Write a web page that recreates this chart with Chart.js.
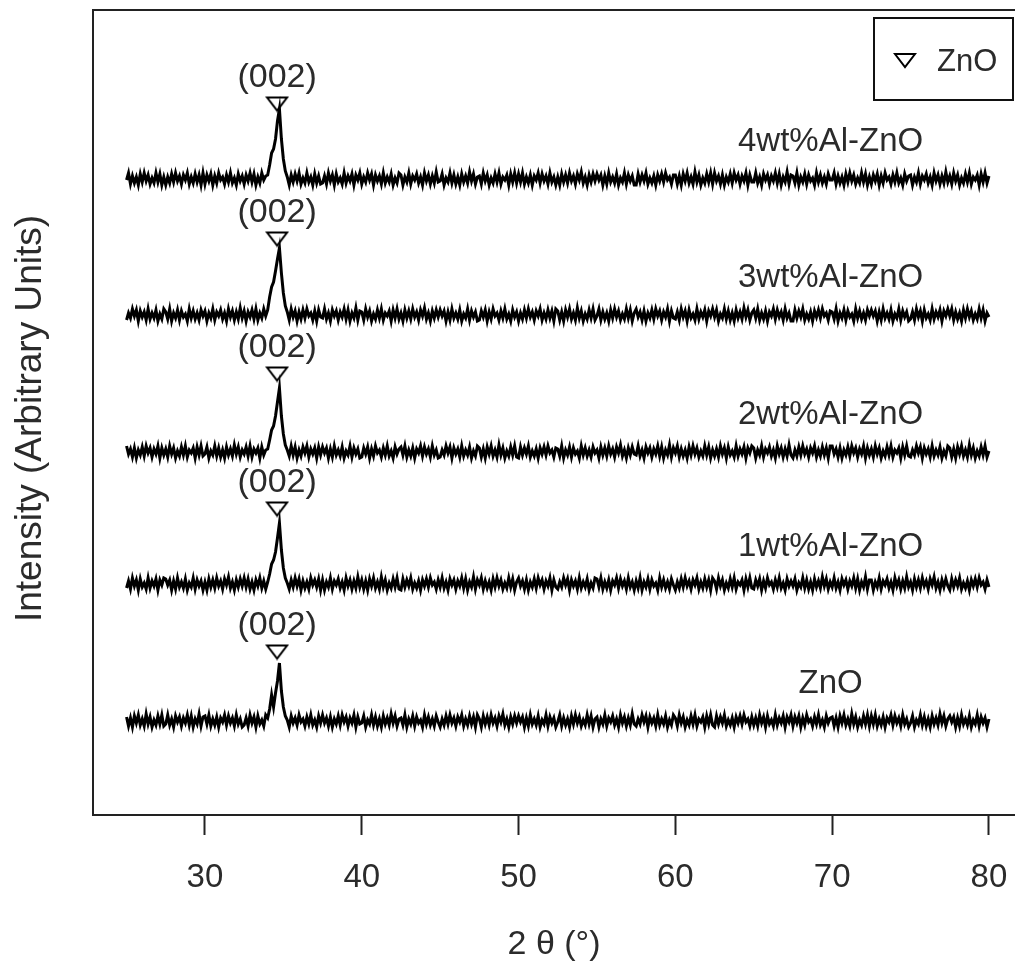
<!DOCTYPE html>
<html>
<head>
<meta charset="utf-8">
<title>XRD Al-ZnO</title>
<script src="https://cdn.jsdelivr.net/npm/chart.js"></script>
<style>
  html, body { margin: 0; padding: 0; background: #fff; }
  #wrap { width: 1015px; height: 972px; }
</style>
</head>
<body>
<div id="wrap"><canvas id="xrd"></canvas></div>
<script>
// --- datos ---
const xTicks = [30, 40, 50, 60, 70, 80];
// barrido 25..80 en pasos de 0.125
const twoTheta = Array.from({ length: 441 }, (_, i) => 25 + i * 0.125);

const sampleNames = ['ZnO', '1wt%Al-ZnO', '2wt%Al-ZnO', '3wt%Al-ZnO', '4wt%Al-ZnO'];
// desplazamiento vertical de cada patrón (unidades arbitrarias)
const offsets = [94, 231, 363, 500, 636];
// marcador (002) de ZnO: posición y altura para cada patrón
const peakMarkX = 34.6;
const peakMarkY = [163, 306, 441, 576, 711];

const intZnO = [
  4,-5,3,-6,5,-2,6,-4,2,-5,7,-3,4,-6,1,-4,5,-3,6,-5,
  -3,6,-4,2,-6,5,-1,4,-5,3,-2,6,-4,5,-6,2,-3,7,-5,4,
  5,-3,6,-5,2,-4,4,-6,3,-1,6,-4,5,-2,3,-5,6,-3,2,-6,
  -4,3,-5,6,-2,4,-6,5,-3,1,-5,6,3,12,26,14,28,40,58,30,
  14,5,1,-6,5,-2,3,-4,6,-1,2,-5,4,-3,6,-4,1,-6,5,-2,
  6,-2,3,-5,4,-6,2,-3,5,-4,6,-1,4,-5,3,-2,6,-6,4,-3,
  -2,5,-6,1,-3,6,-4,4,-5,2,-6,5,-3,3,-4,7,-2,5,-5,2,
  3,-4,6,-6,2,-3,5,-5,4,-2,1,-6,6,-3,4,-4,2,-5,5,-1,
  -6,2,-4,5,-3,6,-2,3,-5,4,-1,6,-5,2,-4,5,-3,4,-6,6,
  2,-6,5,-3,4,-4,6,-2,3,-5,5,-1,7,-4,2,-6,4,-3,5,-2,
  5,-1,4,-6,3,-5,6,-3,2,-4,5,-6,1,-3,6,-5,4,-2,3,-6,
  -1,6,-5,3,-4,2,-6,5,-3,6,-2,4,-5,1,-4,6,-3,5,-6,2,
  4,-6,2,-3,6,-5,3,-1,5,-4,2,-6,6,-2,4,-5,3,-4,7,-3,
  -5,2,-3,6,-1,5,-6,4,-2,3,-5,6,-4,2,-3,5,-6,1,-4,6,
  3,-5,6,-2,4,-6,1,-4,5,-3,6,-5,2,-1,4,-6,5,-3,6,-4,
  -6,5,-3,4,-2,6,-5,1,-4,3,-6,4,-2,5,-3,6,-1,2,-5,4,
  -4,3,-5,6,-2,4,-6,5,-3,1,-5,6,-4,3,-2,5,-6,4,-1,6,
  -5,4,-2,5,-6,3,-4,6,-1,2,-5,4,-3,6,-4,1,-6,5,-2,3,
  4,-5,3,-6,5,-2,6,-4,2,-5,7,-3,4,-6,1,-4,5,-3,6,-5,
  5,-3,6,-5,2,-4,4,-6,3,-1,6,-4,5,-2,3,-5,6,-3,2,-6,
  -2,5,-6,1,-3,6,-4,4,-5,2,-6,5,-3,3,-4,7,-2,5,-5,2,
  5,-1,4,-6,3,-5,6,-3,2,-4,5,-6,1,-3,6,-5,4,-2,3,-6,
  2
];
const int1wt = [
  -4,3,-5,6,-2,4,-6,5,-3,1,-5,6,-4,3,-2,5,-6,4,-1,6,
  5,-1,4,-6,3,-5,6,-3,2,-4,5,-6,1,-3,6,-5,4,-2,3,-6,
  2,-6,5,-3,4,-4,6,-2,3,-5,5,-1,7,-4,2,-6,4,-3,5,-2,
  6,-3,5,-5,2,-6,4,-2,6,-4,3,-5,2,10,20,24,32,46,61,34,
  16,6,1,-5,4,-3,6,-2,5,-6,3,-4,2,-5,6,-1,4,-3,5,-6,
  4,-6,2,-3,6,-5,3,-1,5,-4,2,-6,6,-2,4,-5,3,-4,7,-3,
  4,-5,3,-6,5,-2,6,-4,2,-5,7,-3,4,-6,1,-4,5,-3,6,-5,
  -6,5,-3,4,-2,6,-5,1,-4,3,-6,4,-2,5,-3,6,-1,2,-5,4,
  -3,6,-4,2,-6,5,-1,4,-5,3,-2,6,-4,5,-6,2,-3,7,-5,4,
  -1,6,-5,3,-4,2,-6,5,-3,6,-2,4,-5,1,-4,6,-3,5,-6,2,
  6,-2,3,-5,4,-6,2,-3,5,-4,6,-1,4,-5,3,-2,6,-6,4,-3,
  -5,2,-3,6,-1,5,-6,4,-2,3,-5,6,-4,2,-3,5,-6,1,-4,6,
  5,-3,6,-5,2,-4,4,-6,3,-1,6,-4,5,-2,3,-5,6,-3,2,-6,
  3,-4,6,-6,2,-3,5,-5,4,-2,1,-6,6,-3,4,-4,2,-5,5,-1,
  -6,2,-4,5,-3,6,-2,3,-5,4,-1,6,-5,2,-4,5,-3,4,-6,6,
  3,-5,6,-2,4,-6,1,-4,5,-3,6,-5,2,-1,4,-6,5,-3,6,-4,
  -5,4,-2,5,-6,3,-4,6,-1,2,-5,4,-3,6,-4,1,-6,5,-2,3,
  -2,5,-6,1,-3,6,-4,4,-5,2,-6,5,-3,3,-4,7,-2,5,-5,2,
  -3,6,-4,2,-6,5,-1,4,-5,3,-2,6,-4,5,-6,2,-3,7,-5,4,
  4,-6,2,-3,6,-5,3,-1,5,-4,2,-6,6,-2,4,-5,3,-4,7,-3,
  2,-6,5,-3,4,-4,6,-2,3,-5,5,-1,7,-4,2,-6,4,-3,5,-2,
  -6,5,-3,4,-2,6,-5,1,-4,3,-6,4,-2,5,-3,6,-1,2,-5,4,
  -3
];
const int2wt = [
  6,-2,3,-5,4,-6,2,-3,5,-4,6,-1,4,-5,3,-2,6,-6,4,-3,
  3,-5,6,-2,4,-6,1,-4,5,-3,6,-5,2,-1,4,-6,5,-3,6,-4,
  -2,5,-6,1,-3,6,-4,4,-5,2,-6,5,-3,3,-4,7,-2,5,-5,2,
  -2,5,-4,6,-5,3,-1,4,-6,5,-3,2,3,12,22,26,36,50,64,36,
  18,7,2,-4,6,-3,5,-6,2,-4,5,-1,6,-5,3,-2,4,-6,5,-3,
  5,-1,4,-6,3,-5,6,-3,2,-4,5,-6,1,-3,6,-5,4,-2,3,-6,
  -5,4,-2,5,-6,3,-4,6,-1,2,-5,4,-3,6,-4,1,-6,5,-2,3,
  5,-3,6,-5,2,-4,4,-6,3,-1,6,-4,5,-2,3,-5,6,-3,2,-6,
  -5,2,-3,6,-1,5,-6,4,-2,3,-5,6,-4,2,-3,5,-6,1,-4,6,
  4,-5,3,-6,5,-2,6,-4,2,-5,7,-3,4,-6,1,-4,5,-3,6,-5,
  -6,5,-3,4,-2,6,-5,1,-4,3,-6,4,-2,5,-3,6,-1,2,-5,4,
  3,-4,6,-6,2,-3,5,-5,4,-2,1,-6,6,-3,4,-4,2,-5,5,-1,
  2,-6,5,-3,4,-4,6,-2,3,-5,5,-1,7,-4,2,-6,4,-3,5,-2,
  -3,6,-4,2,-6,5,-1,4,-5,3,-2,6,-4,5,-6,2,-3,7,-5,4,
  -1,6,-5,3,-4,2,-6,5,-3,6,-2,4,-5,1,-4,6,-3,5,-6,2,
  -4,3,-5,6,-2,4,-6,5,-3,1,-5,6,-4,3,-2,5,-6,4,-1,6,
  4,-6,2,-3,6,-5,3,-1,5,-4,2,-6,6,-2,4,-5,3,-4,7,-3,
  -6,2,-4,5,-3,6,-2,3,-5,4,-1,6,-5,2,-4,5,-3,4,-6,6,
  6,-2,3,-5,4,-6,2,-3,5,-4,6,-1,4,-5,3,-2,6,-6,4,-3,
  3,-5,6,-2,4,-6,1,-4,5,-3,6,-5,2,-1,4,-6,5,-3,6,-4,
  -5,2,-3,6,-1,5,-6,4,-2,3,-5,6,-4,2,-3,5,-6,1,-4,6,
  4,-5,3,-6,5,-2,6,-4,2,-5,7,-3,4,-6,1,-4,5,-3,6,-5,
  1
];
const int3wt = [
  -5,2,-3,6,-1,5,-6,4,-2,3,-5,6,-4,2,-3,5,-6,1,-4,6,
  3,-4,6,-6,2,-3,5,-5,4,-2,1,-6,6,-3,4,-4,2,-5,5,-1,
  4,-6,2,-3,6,-5,3,-1,5,-4,2,-6,6,-2,4,-5,3,-4,7,-3,
  4,-6,3,-2,5,-4,6,-5,2,-3,6,-1,5,18,28,33,44,56,67,42,
  22,9,3,-5,6,-2,4,-6,3,-4,5,-3,6,-1,2,-5,4,-6,5,-2,
  -3,6,-4,2,-6,5,-1,4,-5,3,-2,6,-4,5,-6,2,-3,7,-5,4,
  3,-5,6,-2,4,-6,1,-4,5,-3,6,-5,2,-1,4,-6,5,-3,6,-4,
  2,-6,5,-3,4,-4,6,-2,3,-5,5,-1,7,-4,2,-6,4,-3,5,-2,
  5,-1,4,-6,3,-5,6,-3,2,-4,5,-6,1,-3,6,-5,4,-2,3,-6,
  -5,4,-2,5,-6,3,-4,6,-1,2,-5,4,-3,6,-4,1,-6,5,-2,3,
  -6,2,-4,5,-3,6,-2,3,-5,4,-1,6,-5,2,-4,5,-3,4,-6,6,
  4,-5,3,-6,5,-2,6,-4,2,-5,7,-3,4,-6,1,-4,5,-3,6,-5,
  -1,6,-5,3,-4,2,-6,5,-3,6,-2,4,-5,1,-4,6,-3,5,-6,2,
  6,-2,3,-5,4,-6,2,-3,5,-4,6,-1,4,-5,3,-2,6,-6,4,-3,
  -4,3,-5,6,-2,4,-6,5,-3,1,-5,6,-4,3,-2,5,-6,4,-1,6,
  -2,5,-6,1,-3,6,-4,4,-5,2,-6,5,-3,3,-4,7,-2,5,-5,2,
  5,-3,6,-5,2,-4,4,-6,3,-1,6,-4,5,-2,3,-5,6,-3,2,-6,
  -6,5,-3,4,-2,6,-5,1,-4,3,-6,4,-2,5,-3,6,-1,2,-5,4,
  3,-4,6,-6,2,-3,5,-5,4,-2,1,-6,6,-3,4,-4,2,-5,5,-1,
  5,-1,4,-6,3,-5,6,-3,2,-4,5,-6,1,-3,6,-5,4,-2,3,-6,
  -4,3,-5,6,-2,4,-6,5,-3,1,-5,6,-4,3,-2,5,-6,4,-1,6,
  -1,6,-5,3,-4,2,-6,5,-3,6,-2,4,-5,1,-4,6,-3,5,-6,2,
  -2
];
const int4wt = [
  -1,6,-5,3,-4,2,-6,5,-3,6,-2,4,-5,1,-4,6,-3,5,-6,2,
  -6,2,-4,5,-3,6,-2,3,-5,4,-1,6,-5,2,-4,5,-3,4,-6,6,
  -5,4,-2,5,-6,3,-4,6,-1,2,-5,4,-3,6,-4,1,-6,5,-2,3,
  -5,4,-2,6,-3,5,-6,2,-4,6,-1,3,4,14,26,30,40,58,70,40,
  20,8,2,-6,4,-3,5,-2,6,-5,1,-4,6,-3,2,-6,5,-4,3,-5,
  -4,3,-5,6,-2,4,-6,5,-3,1,-5,6,-4,3,-2,5,-6,4,-1,6,
  -5,2,-3,6,-1,5,-6,4,-2,3,-5,6,-4,2,-3,5,-6,1,-4,6,
  4,-6,2,-3,6,-5,3,-1,5,-4,2,-6,6,-2,4,-5,3,-4,7,-3,
  -2,5,-6,1,-3,6,-4,4,-5,2,-6,5,-3,3,-4,7,-2,5,-5,2,
  3,-5,6,-2,4,-6,1,-4,5,-3,6,-5,2,-1,4,-6,5,-3,6,-4,
  5,-3,6,-5,2,-4,4,-6,3,-1,6,-4,5,-2,3,-5,6,-3,2,-6,
  2,-6,5,-3,4,-4,6,-2,3,-5,5,-1,7,-4,2,-6,4,-3,5,-2,
  5,-1,4,-6,3,-5,6,-3,2,-4,5,-6,1,-3,6,-5,4,-2,3,-6,
  -6,5,-3,4,-2,6,-5,1,-4,3,-6,4,-2,5,-3,6,-1,2,-5,4,
  4,-5,3,-6,5,-2,6,-4,2,-5,7,-3,4,-6,1,-4,5,-3,6,-5,
  6,-2,3,-5,4,-6,2,-3,5,-4,6,-1,4,-5,3,-2,6,-6,4,-3,
  -3,6,-4,2,-6,5,-1,4,-5,3,-2,6,-4,5,-6,2,-3,7,-5,4,
  3,-4,6,-6,2,-3,5,-5,4,-2,1,-6,6,-3,4,-4,2,-5,5,-1,
  -1,6,-5,3,-4,2,-6,5,-3,6,-2,4,-5,1,-4,6,-3,5,-6,2,
  -5,4,-2,5,-6,3,-4,6,-1,2,-5,4,-3,6,-4,1,-6,5,-2,3,
  4,-6,2,-3,6,-5,3,-1,5,-4,2,-6,6,-2,4,-5,3,-4,7,-3,
  3,-5,6,-2,4,-6,1,-4,5,-3,6,-5,2,-1,4,-6,5,-3,6,-4,
  3
];
const intensities = [intZnO, int1wt, int2wt, int3wt, int4wt];

// --- estilos ---
const FONT = '"Liberation Sans", Arial, sans-serif';
const TXT = '#2b2b2b';
Chart.defaults.font.family = FONT;
Chart.defaults.color = TXT;

// triángulo invertido como imagen de marcador
function triangleIcon(w, h) {
  const c = document.createElement('canvas');
  c.width = w + 4; c.height = h + 4;
  const g = c.getContext('2d');
  g.beginPath();
  g.moveTo(2, 2);
  g.lineTo(w + 2, 2);
  g.lineTo(w / 2 + 2, h + 2);
  g.closePath();
  g.fillStyle = '#fff';
  g.fill();
  g.lineWidth = 2;
  g.strokeStyle = '#000';
  g.stroke();
  return c;
}
const triMark = triangleIcon(20, 13);

const traceSets = intensities.map((vals, k) => ({
  label: sampleNames[k],
  data: twoTheta.map((x, i) => ({ x, y: offsets[k] + vals[i] })),
  borderColor: '#000',
  borderWidth: 3,
  pointRadius: 0,
  fill: false,
  tension: 0
}));

const markerSet = {
  label: 'ZnO',
  data: peakMarkY.map(y => ({ x: peakMarkX, y })),
  showLine: false,
  pointStyle: triMark,
  pointRadius: 10
};

// marco, textos y leyenda
const decor = {
  id: 'decor',
  afterDatasetsDraw(chart) {
    const { ctx, chartArea: a, scales: { x, y } } = chart;
    ctx.save();
    // marco superior e izquierdo
    ctx.strokeStyle = '#222';
    ctx.lineWidth = 2;
    ctx.beginPath();
    ctx.moveTo(a.right + 2, a.top);
    ctx.lineTo(a.left, a.top);
    ctx.lineTo(a.left, a.bottom);
    ctx.stroke();

    ctx.fillStyle = TXT;
    ctx.textAlign = 'center';
    ctx.textBaseline = 'middle';
    // etiquetas (002)
    ctx.font = '34px ' + FONT;
    peakMarkY.forEach(v => {
      ctx.fillText('(002)', x.getPixelForValue(peakMarkX), y.getPixelForValue(v + 26));
    });
    // nombres de muestra
    ctx.font = '33px ' + FONT;
    offsets.forEach((o, k) => {
      ctx.fillText(sampleNames[k], x.getPixelForValue(69.9), y.getPixelForValue(o + 37));
    });

    // título eje y
    ctx.save();
    ctx.font = '37px ' + FONT;
    ctx.translate(31, (a.top + a.bottom) / 2 + 6);
    ctx.rotate(-Math.PI / 2);
    ctx.fillText('Intensity (Arbitrary Units)', 0, 0);
    ctx.restore();

    // leyenda
    ctx.fillStyle = '#fff';
    ctx.fillRect(874, 18, 139, 82);
    ctx.strokeStyle = '#111';
    ctx.lineWidth = 2;
    ctx.strokeRect(874, 18, 139, 82);
    ctx.drawImage(triMark, 893, 52);
    ctx.fillStyle = TXT;
    ctx.textAlign = 'left';
    ctx.font = '31px ' + FONT;
    ctx.fillText('ZnO', 937, 62);
    ctx.restore();
  }
};

new Chart(document.getElementById('xrd'), {
  type: 'line',
  data: { datasets: [...traceSets, markerSet] },
  options: {
    responsive: true,
    maintainAspectRatio: false,
    animation: false,
    devicePixelRatio: 1,
    layout: { autoPadding: false, padding: { left: 93, right: 0, top: 10, bottom: 0 } },
    plugins: { legend: { display: false }, tooltip: { enabled: false } },
    scales: {
      x: {
        type: 'linear',
        min: 22.86,
        max: 81.66,
        afterBuildTicks: s => { s.ticks = xTicks.map(v => ({ value: v })); },
        afterFit: s => { s.paddingLeft = 0; s.paddingRight = 0; s.height = 157; },
        ticks: { font: { size: 33 }, color: TXT, padding: 23, maxRotation: 0 },
        grid: { drawOnChartArea: false, drawTicks: true, tickLength: 20, tickColor: '#222', tickWidth: 2 },
        border: { display: true, color: '#222', width: 2 },
        title: { display: true, text: '2 θ (°)', font: { size: 34 }, color: TXT, padding: { top: 20, bottom: 7 } }
      },
      y: {
        type: 'linear',
        display: false,
        min: 0,
        max: 805
      }
    }
  },
  plugins: [decor]
});
</script>
</body>
</html>
